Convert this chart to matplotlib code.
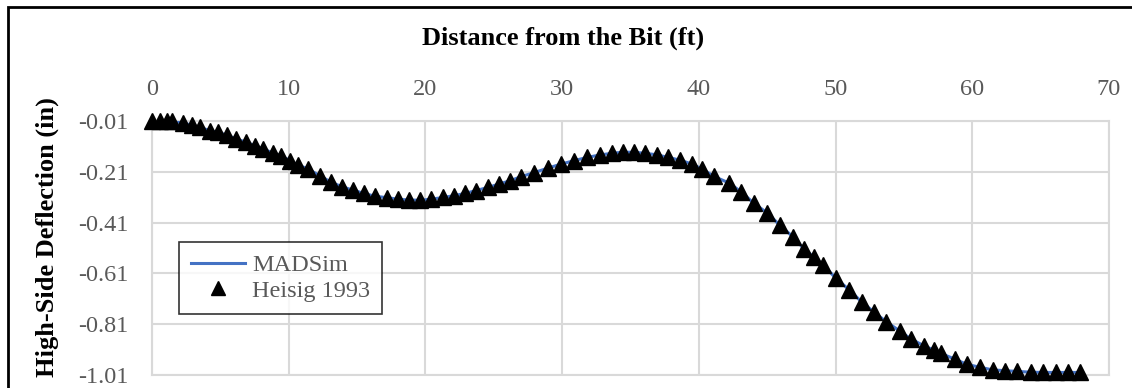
import matplotlib.pyplot as plt
from matplotlib.lines import Line2D

# distance from the bit (ft) and high-side deflection (in)
dist_ft = [0.0, 0.58, 1.07, 1.44, 2.29, 2.9, 3.5, 4.23, 4.84, 5.45, 6.18, 6.91, 7.52,
           8.12, 8.85, 9.47, 10.07, 10.68, 11.41, 12.26, 13.1, 13.9, 14.7, 15.5, 16.3,
           17.2, 18.0, 18.8, 19.6, 20.4, 21.3, 22.1, 22.9, 23.7, 24.6, 25.4, 26.2, 27.0,
           27.96, 28.93, 29.9, 30.88, 31.85, 32.75, 33.63, 34.45, 35.26, 36.06, 36.91,
           37.74, 38.61, 39.47, 40.24, 41.1, 42.2, 43.1, 44.0, 45.0, 45.9, 46.9, 47.7,
           48.4, 49.1, 50.0, 51.0, 51.9, 52.8, 53.7, 54.7, 55.5, 56.5, 57.2, 57.7, 58.7,
           59.6, 60.6, 61.5, 62.4, 63.3, 64.3, 65.2, 66.1, 67.0, 67.9]
heisig_in = [-0.01, -0.01, -0.01, -0.011, -0.018, -0.026, -0.035, -0.048, -0.055,
             -0.065, -0.081, -0.094, -0.107, -0.12, -0.136, -0.147, -0.166, -0.183,
             -0.199, -0.225, -0.251, -0.269, -0.282, -0.295, -0.306, -0.312, -0.318,
             -0.321, -0.322, -0.318, -0.311, -0.304, -0.295, -0.284, -0.271, -0.258,
             -0.245, -0.229, -0.213, -0.196, -0.18, -0.166, -0.153, -0.144, -0.137,
             -0.133, -0.133, -0.137, -0.143, -0.153, -0.164, -0.179, -0.199, -0.228,
             -0.254, -0.289, -0.333, -0.372, -0.419, -0.467, -0.514, -0.545, -0.577,
             -0.628, -0.675, -0.722, -0.762, -0.8, -0.837, -0.868, -0.896, -0.912,
             -0.925, -0.947, -0.968, -0.98, -0.99, -0.993, -0.996, -0.999, -1.0, -1.0,
             -1.0, -1.0]
madsim_ft = dist_ft
madsim_in = heisig_in

xticks = [0, 10, 20, 30, 40, 50, 60, 70]
yticks = [-0.01, -0.21, -0.41, -0.61, -0.81, -1.01]

plt.rcParams['font.family'] = ['Liberation Serif', 'DejaVu Serif']
grey = '#595959'
grid_c = '#d9d9d9'

fig = plt.figure(figsize=(11.32, 3.88), dpi=100)
ax = fig.add_axes([152 / 1132, 1 - 375 / 388, (1109 - 152) / 1132, (375 - 121) / 388])

ax.plot(madsim_ft, madsim_in, color='#4472c4', lw=2.2, zorder=3)
ax.plot(dist_ft, heisig_in, ls='none', marker='^', ms=11, color='black',
        clip_on=False, zorder=4)

ax.set_xlim(0, 70)
ax.set_ylim(-1.01, -0.01)
ax.set_xticks(xticks)
ax.set_yticks(yticks)
ax.set_yticklabels(['%.2f' % v for v in yticks])
ax.xaxis.tick_top()
ax.tick_params(length=0, labelsize=17.5, labelcolor=grey)
ax.tick_params(axis='x', pad=15)
ax.tick_params(axis='y', pad=17)
ax.grid(True, color=grid_c, lw=1.5)
ax.set_axisbelow(True)
for side, sp in ax.spines.items():
    sp.set_color(grid_c)
    sp.set_linewidth(1.5)

fig.text(563 / 1132, 1 - 38 / 388, 'Distance from the Bit (ft)', fontsize=19,
         fontweight='bold', ha='center', va='center')
fig.text(47 / 1132, 1 - 237 / 388, 'High-Side Deflection (in)', fontsize=19,
         fontweight='bold', ha='center', va='center', rotation=90)

handles = [Line2D([], [], color='#4472c4', lw=2.2),
           Line2D([], [], ls='none', marker='^', ms=10, color='black')]
leg = ax.legend(handles, ['MADSim', 'Heisig 1993'], loc='upper left',
                bbox_to_anchor=((179 - 152) / 957, (375 - 242) / 254),
                fontsize=17.5, frameon=True, fancybox=False, borderaxespad=0,
                handlelength=2.2, handletextpad=0.3, labelspacing=0.15,
                borderpad=0.5)
leg.get_frame().set_edgecolor('black')
leg.get_frame().set_linewidth(1.2)
for t in leg.get_texts():
    t.set_color(grey)

# outer border, only top and left edges fall inside the canvas
fig.add_artist(plt.Rectangle((8 / 1132, -0.2), 1.2, 1.2 - 7 / 388,
                             transform=fig.transFigure, fill=False,
                             edgecolor='black', lw=2))

fig.savefig('out.png', dpi=100)
